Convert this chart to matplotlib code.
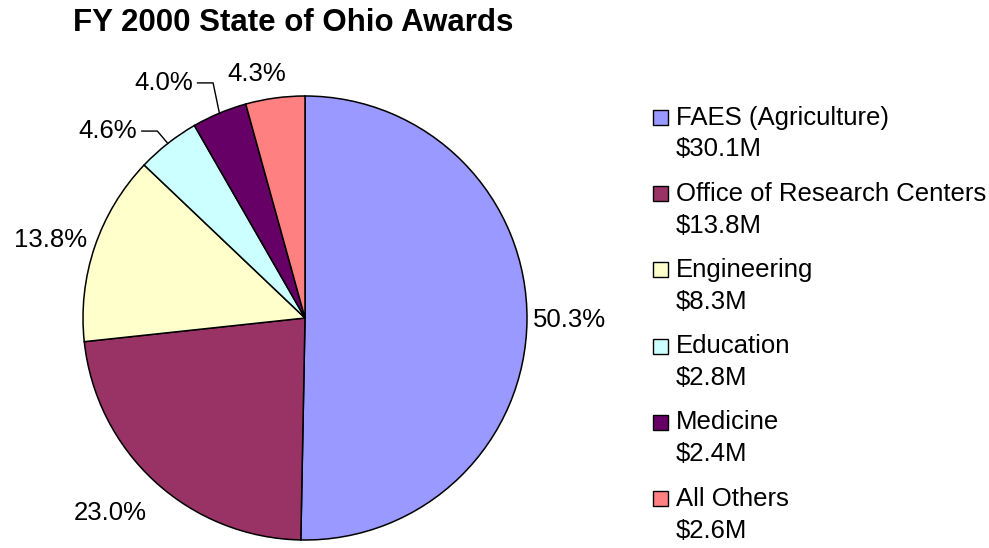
import numpy as np
import matplotlib
matplotlib.use('Agg')
from matplotlib import pyplot as plt
from matplotlib.patches import Rectangle

plt.rcParams['font.family'] = ['Liberation Sans', 'DejaVu Sans']

# data
categories = ['FAES (Agriculture)', 'Office of Research Centers', 'Engineering',
              'Education', 'Medicine', 'All Others']
amounts = ['$30.1M', '$13.8M', '$8.3M', '$2.8M', '$2.4M', '$2.6M']
percents = [50.3, 23.0, 13.8, 4.6, 4.0, 4.3]
colors = ['#9999FF', '#993366', '#FFFFCC', '#CCFFFF', '#660066', '#FF8080']

W, H = 989, 548
fig = plt.figure(figsize=(W / 100, H / 100), dpi=100)


def px(x, y):
    """pixel position (from top-left) -> figure fraction"""
    return x / W, 1 - y / H


# pie: centre (305, 318), radius 222 px
R = 222
cx, cy = 305, 318
ax = fig.add_axes([(cx - R) / W, (H - cy - R) / H, 2 * R / W, 2 * R / H])
wedges, _ = ax.pie(percents, colors=colors, startangle=90, counterclock=False,
                   wedgeprops=dict(edgecolor='black', linewidth=1.1))
ax.set_xlim(-1, 1)
ax.set_ylim(-1, 1)
ax.set_aspect('equal')
ax.axis('off')

# label placement: (distance, angle shift in degrees) from wedge middle
label_pos = [(1.19, 0), (1.24, -2.5), (1.20, 1.7), (None, 0), (None, 0), (1.12, 3.5)]
# leader line labels: elbow point in pie units
elbows = {3: (-0.665, 0.842), 4: (-0.414, 1.059)}

for i, w in enumerate(wedges):
    mid = np.deg2rad((w.theta1 + w.theta2) / 2)
    txt = '%.1f%%' % percents[i]
    if i in elbows:
        ex, ey = np.cos(mid), np.sin(mid)
        bx, by = elbows[i]
        ax.plot([ex, bx, bx - 0.07], [ey, by, by], color='black', lw=1.0,
                clip_on=False)
        ax.text(bx - 0.09, by, txt, ha='right', va='center', fontsize=18.5)
    else:
        d, shift = label_pos[i]
        a = mid + np.deg2rad(shift)
        ax.text(d * np.cos(a), d * np.sin(a), txt, ha='center', va='center',
                fontsize=18.5)

# title
fig.text(*px(73, 23), 'FY 2000 State of Ohio Awards', ha='left', va='center',
         fontsize=22.5, fontweight='bold')

# legend drawn by hand so the swatch lines up with the first text line
for i, (name, amt) in enumerate(zip(categories, amounts)):
    yc = 117.5 + 76.2 * i
    x0, y0 = px(653, yc + 7.5)
    fig.patches.append(Rectangle((x0, y0), 15 / W, 15 / H, facecolor=colors[i],
                                 edgecolor='black', linewidth=1.0,
                                 transform=fig.transFigure, figure=fig))
    fig.text(*px(676, yc), name, ha='left', va='center', fontsize=18.5)
    fig.text(*px(676, yc + 32), amt, ha='left', va='center', fontsize=18.5)

plt.savefig('out.png', dpi=100)
